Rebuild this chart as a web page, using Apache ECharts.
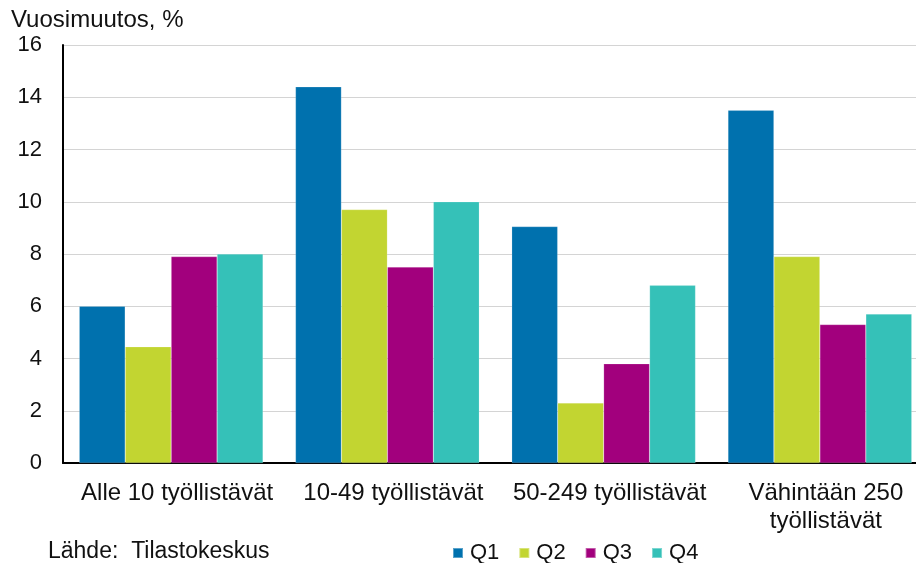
<!DOCTYPE html>
<html>
<head>
<meta charset="utf-8">
<script src="https://cdn.jsdelivr.net/npm/echarts@6/dist/echarts.min.js"></script>
<style>
  html, body { margin: 0; padding: 0; background: #fff; }
  #chart { width: 916px; height: 563px; }
</style>
</head>
<body>
<div id="chart"></div>
<script>
let categories = ['Alle 10 työllistävät', '10-49 työllistävät', '50-249 työllistävät', 'Vähintään 250\ntyöllistävät'];
let seriesNames = ['Q1', 'Q2', 'Q3', 'Q4'];
let q1 = [6.0, 14.4, 9.05, 13.5];
let q2 = [4.45, 9.7, 2.3, 7.9];
let q3 = [7.9, 7.5, 3.8, 5.3];
let q4 = [8.0, 10.0, 6.8, 5.7];
let yTicks = [0, 2, 4, 6, 8, 10, 12, 14, 16];

let colors = ['#0071ae', '#c2d531', '#a2007d', '#35c1b8'];
let font = 'Liberation Sans, Arial, sans-serif';

let myChart = echarts.init(document.getElementById('chart'));
let values = [q1, q2, q3, q4];

let option = {
    animation: false,
    color: colors,
    textStyle: { fontFamily: font, color: '#111' },
    // plot runs a bit past the right edge of the picture, as in the original
    grid: {
        left: 63,
        width: 865,
        top: 45,
        bottom: 100,
        containLabel: false,
        outerBoundsMode: 'none'
    },
    legend: {
        data: seriesNames,
        left: 447,
        top: 537,
        itemWidth: 10,
        itemHeight: 10,
        itemGap: 19,
        icon: 'rect',
        textStyle: { fontSize: 22, fontFamily: font, color: '#111', padding: [0, 0, 0, 2] }
    },
    graphic: [
        {
            type: 'text',
            left: 11,
            top: 8,
            style: { text: 'Vuosimuutos, %', fontSize: 24, fontFamily: font, fill: '#111' }
        },
        {
            type: 'text',
            left: 48,
            top: 540,
            style: { text: 'Lähde:  Tilastokeskus', fontSize: 23, fontFamily: font, fill: '#111' }
        }
    ],
    xAxis: {
        type: 'category',
        data: categories,
        axisLine: { lineStyle: { color: '#000', width: 2 } },
        axisTick: { show: false },
        axisLabel: {
            interval: 0,
            fontSize: 24,
            fontFamily: font,
            color: '#111',
            margin: 16,
            lineHeight: 28,
            padding: [0, 0, 0, 12]
        }
    },
    yAxis: {
        type: 'value',
        min: yTicks[0],
        max: yTicks[yTicks.length - 1],
        interval: 2,
        axisLine: { show: true, lineStyle: { color: '#000', width: 2 } },
        axisTick: { show: false },
        splitLine: { lineStyle: { color: '#d4d4d4', width: 1 } },
        axisLabel: { fontSize: 22, fontFamily: font, color: '#111', margin: 21 }
    },
    series: seriesNames.map(function (name, i) {
        return {
            name: name,
            type: 'bar',
            data: values[i],
            barGap: '0%',
            barCategoryGap: '15%',
            itemStyle: { borderColor: 'rgba(255,255,255,0.35)', borderWidth: 0.5 }
        };
    })
};

myChart.setOption(option);
</script>
</body>
</html>
